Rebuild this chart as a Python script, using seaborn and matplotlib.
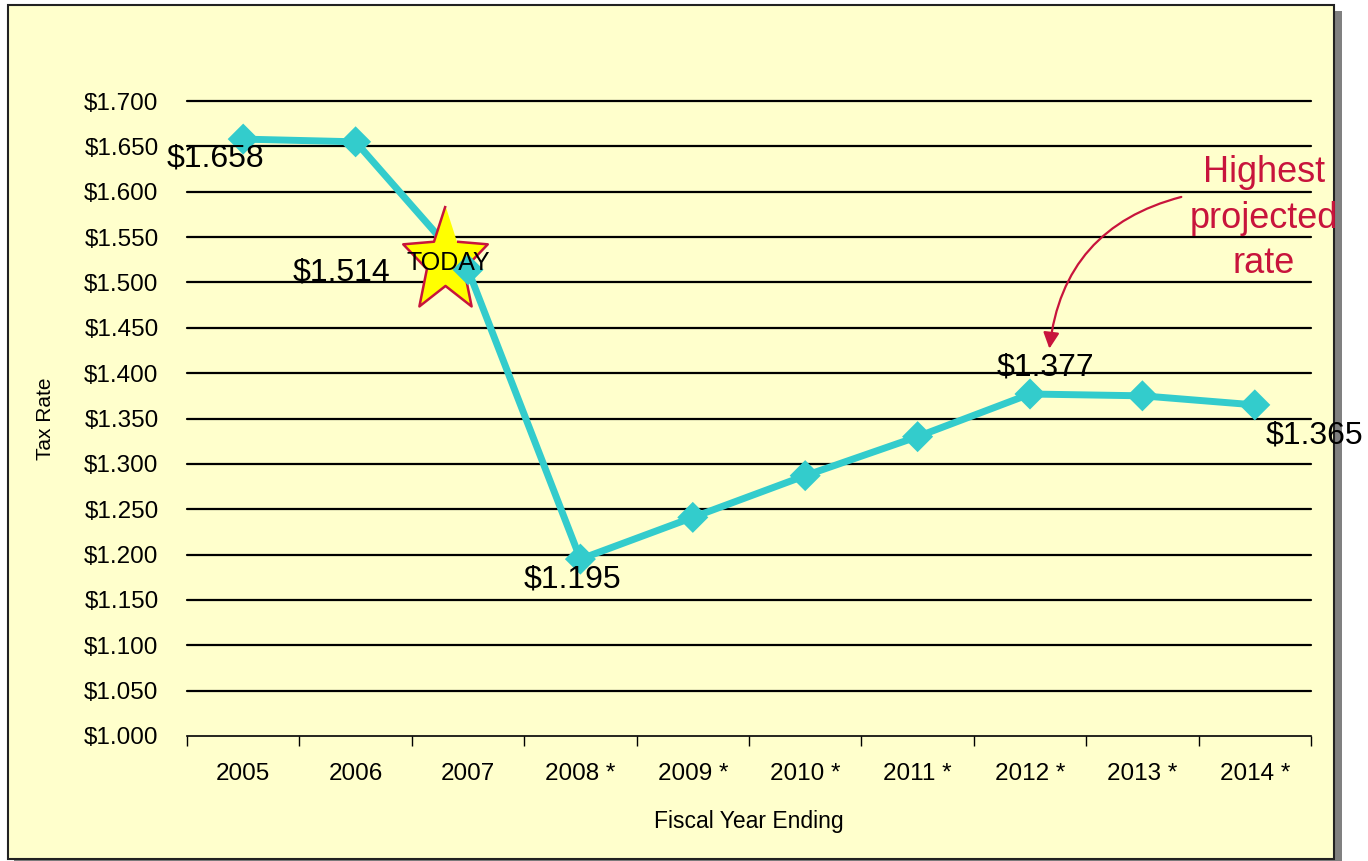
import matplotlib
matplotlib.use("Agg")
import matplotlib.pyplot as plt
import matplotlib.transforms as mtransforms
from matplotlib.patches import Rectangle
import numpy as np
import pandas as pd
import seaborn as sns

# ── Data ──────────────────────────────────────────────────────────────────────
years = ["2005", "2006", "2007", "2008 *", "2009 *", "2010 *",
         "2011 *", "2012 *", "2013 *", "2014 *"]
tax_rate = [1.658, 1.655, 1.514, 1.195, 1.241, 1.287, 1.330, 1.377, 1.375, 1.365]
labelled = {"2005": "$1.658", "2007": "$1.514", "2008 *": "$1.195",
            "2012 *": "$1.377", "2014 *": "$1.365"}
y_ticks = np.arange(1.0, 1.7001, 0.05)

TEAL = "#33CCCC"
CRIMSON = "#C8143C"
BG = "#FFFFCC"

sns.set_style("white")
plt.rcParams["font.family"] = ["Liberation Sans", "DejaVu Sans"]
plt.rcParams["text.color"] = "black"
plt.rcParams["axes.labelcolor"] = "black"
plt.rcParams["xtick.color"] = "black"
plt.rcParams["ytick.color"] = "black"

df = pd.DataFrame({"year": years, "rate": tax_rate})
df["pos"] = np.arange(len(years))

fig = plt.figure(figsize=(13.68, 8.61), dpi=100)
fig.patch.set_facecolor("white")
W, H = 1368, 861
# shadow + framed yellow panel
fig.patches.append(Rectangle((14 / W, 1 - 864 / H), 1328 / W, 853 / H,
                             transform=fig.transFigure, facecolor="#808080",
                             edgecolor="none", zorder=-10))
fig.patches.append(Rectangle((8 / W, 1 - 859 / H), 1326 / W, 854 / H,
                             transform=fig.transFigure, facecolor=BG,
                             edgecolor="#222222", linewidth=1.5, zorder=-9))

ax = fig.add_axes([187 / W, 1 - 736 / H, (1311 - 187) / W, (736 - 101) / H])
ax.set_zorder(2)
ax.set_facecolor("none")

# gridlines
for v in y_ticks[1:]:
    ax.axhline(v, color="black", lw=1.6, zorder=1, clip_on=False)

sns.lineplot(data=df, x="pos", y="rate", color=TEAL, lw=5, ax=ax, zorder=3)

# narrow five-point star for the "TODAY" burst
ang = np.deg2rad(90 + 36 * np.arange(10))
rad = np.where(np.arange(10) % 2 == 0, 1.0, 0.44)
star = np.column_stack([0.80 * rad * np.cos(ang), rad * np.sin(ang)])

i07 = years.index("2007")
star_tr = mtransforms.offset_copy(ax.transData, fig=fig, x=-16.5, y=6, units="points")
ax.plot(df["pos"][i07], df["rate"][i07], marker=star, markersize=80,
        markerfacecolor="#FFFF00", markeredgecolor=CRIMSON, markeredgewidth=1.8,
        transform=star_tr, zorder=4)
ax.annotate("TODAY", (df["pos"][i07], df["rate"][i07]), xytext=(-14, 5),
            textcoords="offset points", ha="center", va="center", fontsize=18, zorder=6)

sns.scatterplot(data=df, x="pos", y="rate", marker="D", s=250, color=TEAL,
                edgecolor="none", ax=ax, zorder=5)

offsets = {"2005": (-20, -14), "2007": (-91, -2), "2008 *": (-6, -15),
           "2012 *": (11, 19), "2014 *": (43, -22)}
for yr, txt in labelled.items():
    i = years.index(yr)
    ax.annotate(txt, (df["pos"][i], df["rate"][i]), xytext=offsets[yr],
                textcoords="offset points", ha="center", va="center",
                fontsize=23, zorder=6, annotation_clip=False)

# callout
ax.text(9.08, 1.571, "Highest\nprojected\nrate", transform=ax.transData,
        ha="center", va="center", color=CRIMSON, fontsize=26, linespacing=1.38)
ax.annotate("", xy=(7.17, 1.424), xytext=(8.37, 1.595),
            arrowprops=dict(arrowstyle="-|>", color=CRIMSON, lw=1.6,
                            mutation_scale=24,
                            connectionstyle="arc3,rad=0.35"))

ax.set_xlim(-0.5, len(years) - 0.5)
ax.set_ylim(1.0, 1.7)
ax.set_yticks(y_ticks)
ax.set_yticklabels([f"${v:.3f}" for v in y_ticks], fontsize=17.5)
ax.set_xticks(df["pos"])
ax.set_xticklabels(years, fontsize=17.5)
ax.set_xticks(np.arange(-0.5, len(years)), minor=True)
ax.tick_params(axis="x", which="major", bottom=False, pad=16)
ax.tick_params(axis="x", which="minor", bottom=True, length=7, width=1,
               color="black", direction="out")
ax.tick_params(axis="y", left=False, pad=17)
for s in ["top", "right", "left"]:
    ax.spines[s].set_visible(False)
ax.spines["bottom"].set_color("black")
ax.spines["bottom"].set_linewidth(1.2)
ax.set_xlabel("Fiscal Year Ending", fontsize=16.5, labelpad=18)
ax.set_ylabel("Tax Rate", fontsize=15, labelpad=21)

fig.savefig("out.png", dpi=100)
